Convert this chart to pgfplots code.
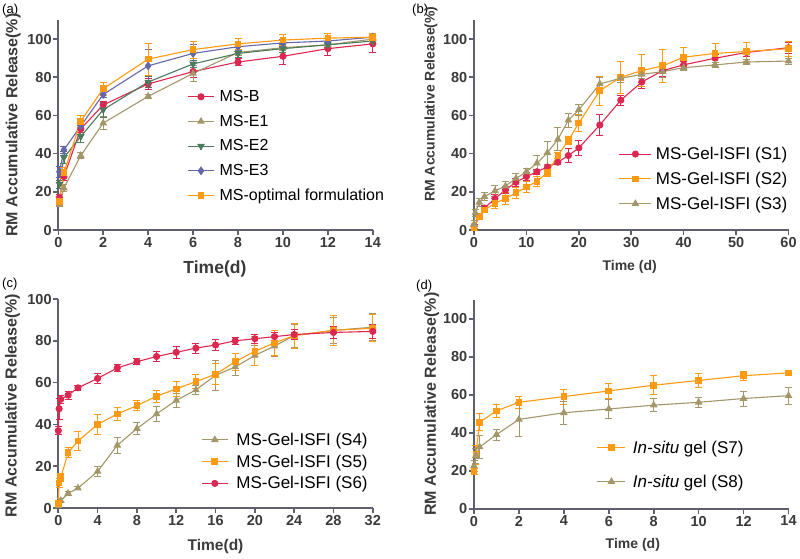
\documentclass[border=0pt]{standalone}
\usepackage{pgfplots}
\pgfplotsset{compat=1.18}
\usepackage{fontspec}
\setmainfont{Liberation Sans}
\definecolor{cred}{HTML}{DC2850}
\definecolor{colive}{HTML}{A39668}
\definecolor{cgreen}{HTML}{4C7A5C}
\definecolor{cpurple}{HTML}{6666AA}
\definecolor{corange}{HTML}{FF9A12}
\definecolor{axiscol}{HTML}{5E6070}
\definecolor{labcol}{HTML}{3A3A3A}
\pgfplotsset{
 prism/.style={
  scale only axis, width=314.5pt, height=210pt,
  axis x line=bottom, axis y line=left,
  axis line style={line width=1.8pt, color=axiscol, -},
  tick align=outside, major tick length=5pt,
  every tick/.style={line width=1.6pt, color=axiscol},
  tick label style={font=\fontsize{14.5}{14.5}\selectfont\bfseries, text=labcol},
  yticklabel style={inner sep=1.5pt},
  xticklabel style={inner sep=2pt},
  /pgf/number format/assume math mode=true,
  minor tick num=0,
  clip=false,
  ymin=0, ytick={0,20,...,100},
  legend cell align=left,
  legend style={draw=none, fill=none, anchor=north west, inner sep=0pt, row sep=7pt, column sep=3pt,
    font=\fontsize{16}{16}\selectfont},
  legend image code/.code={\draw[mark repeat=2,mark phase=2,##1] plot coordinates {(0pt,0pt) (13pt,0pt) (26pt,0pt)};},
  every axis plot/.append style={line width=1.1pt},
  every axis y label/.style={rotate=90, anchor=center, font=\fontsize{16}{16}\selectfont\bfseries, text=labcol},
  every axis x label/.style={anchor=center, font=\fontsize{16}{16}\selectfont\bfseries, text=labcol},
  ylabel={RM Accumulative Release(\%)},
 },
 eb/.style={error bars/.cd, y dir=both, y explicit,
   error bar style={line width=0.8pt},
   error mark options={rotate=90, mark size=3.5pt, line width=0.8pt}},
 sred/.style={color=cred, mark=*, mark size=3pt, mark options={solid, fill=cred}},
 solive/.style={color=colive, mark=triangle*, mark size=3.4pt, mark options={solid, fill=colive}},
 sgreen/.style={color=cgreen, mark=triangle*, mark size=3.4pt, mark options={solid, fill=cgreen, rotate=180}},
 spurple/.style={color=cpurple, mark=diamond*, mark size=3.6pt, mark options={solid, fill=cpurple}},
 sorange/.style={color=corange, mark=square*, mark size=2.8pt, mark options={solid, fill=corange}},
}
\begin{document}
\begin{tikzpicture}
\useasboundingbox (0,0) rectangle (800pt,-558pt);
\node[anchor=north west, font=\fontsize{13}{13}\selectfont, inner sep=0pt] at (2pt,-4pt) {(a)};
\node[anchor=north west, font=\fontsize{13}{13}\selectfont, inner sep=0pt] at (412pt,-4pt) {(b)};
\node[anchor=north west, font=\fontsize{13}{13}\selectfont, inner sep=0pt] at (2pt,-278pt) {(c)};
\node[anchor=north west, font=\fontsize{13}{13}\selectfont, inner sep=0pt] at (416pt,-280pt) {(d)};

% ---------------- (a)
\begin{axis}[prism, at={(58.3pt,-230pt)}, anchor=south west,
  xmin=0, xmax=14, ymax=110, xtick={0,2,...,14},
  xlabel={Time(d)},
  every axis x label/.append style={at={(axis description cs:0.498,-0.186)}, font=\fontsize{17.5}{17.5}\selectfont\bfseries},
  every axis y label/.append style={at={(axis description cs:-0.143,0.5)}},
  legend style={at={(axis description cs:0.41,0.675)}, row sep=8pt},
]
\addplot+[sred, eb] table[y error=e] {
x y e
0.05 17 1.5
0.25 28 2
1 53 2
2 65.5 2
4 76.5 3
6 83 3
8 88 2
10 91 4.5
12 95 3.5
14 97.5 4.5
};
\addlegendentry{MS-B}
\addplot+[solive, eb] table[y error=e] {
x y e
0.05 13.5 1
0.25 22 2
1 39 1.5
2 56 3.5
4 70 1
6 82 4
8 93 1.5
10 95.5 1.5
12 97 1.5
14 100 2
};
\addlegendentry{MS-E1}
\addplot+[sgreen, eb] table[y error=e] {
x y e
0.05 24 2
0.25 38 3
1 49 3
2 63 4
4 77.5 3
6 87 2
8 92.5 2
10 95 2
12 97 1.5
14 99 2
};
\addlegendentry{MS-E2}
\addplot+[spurple, eb] table[y error=e] {
x y e
0.05 30.5 3
0.25 42 2
1 54.5 2
2 71 1.5
4 86 8.5
6 92.5 4.5
8 96 2
10 98 2
12 99 1.5
14 101 1.5
};
\addlegendentry{MS-E3}
\addplot+[sorange, eb] table[y error=e] {
x y e
0.05 15 1.5
0.25 30 3
1 57 3
2 74 3.5
4 89.5 8.5
6 94.5 4.5
8 97.5 3
10 99.5 3
12 100.5 2.5
14 101 2
};
\addlegendentry{MS-optimal formulation}
\end{axis}

% ---------------- (b)
\begin{axis}[prism, at={(474pt,-230pt)}, anchor=south west,
  xmin=0, xmax=60, ymax=110, xtick={0,10,...,60},
  xlabel={Time (d)},
  every axis x label/.append style={at={(axis description cs:0.495,-0.177)}, font=\fontsize{14}{14}\selectfont\bfseries},
  every axis y label/.append style={at={(axis description cs:-0.137,0.6)}, font=\fontsize{14}{14}\selectfont\bfseries},
  legend style={at={(axis description cs:0.46,0.405)}, font=\fontsize{17}{17}\selectfont, row sep=7pt, column sep=2pt},
  legend image code/.code={\draw[mark repeat=2,mark phase=2,#1] plot coordinates {(0pt,0pt) (16pt,0pt) (32pt,0pt)};},
]
\addplot+[sred, eb] table[y error=e] {
x y e
0 2 1
1 7 1.5
2 11.5 1.5
4 16.5 2
6 21 2
8 25 2
10 28 2
12 30.5 1.5
14 33 1.5
16 35.5 1
18 39 3.5
20 43 4
24 55 5.5
28 68 2.5
32 77.5 3.5
36 83.5 3
40 86.5 2
46 90 2
52 93 2
60 95.5 3
};
\addlegendentry{MS-Gel-ISFI (S1)}
\addplot+[sorange, eb] table[y error=e] {
x y e
0 1 1
1 7 1.5
2 10.5 1.5
4 14 2.5
6 16.5 3
8 19.5 3
10 22.5 3
12 25.5 2.5
14 30 2
16 39 1.5
18 47 2
20 56 4.5
24 73 7.5
28 80 8.5
32 83.5 8.5
36 86 8.5
40 90.5 5
46 92.5 5.5
52 93.5 5
60 95 4
};
\addlegendentry{MS-Gel-ISFI (S2)}
\addplot+[solive, eb] table[y error=e] {
x y e
0 3 2
0.25 9 2
1 14.5 2
2 17.5 2
4 20.5 3
6 23 2.5
8 27 2.5
10 30.5 2
12 35 4
14 40.5 6
16 47.5 6
18 57.5 3.5
20 63 3
24 76.5 3.5
28 79.5 2
32 81.5 2
36 83 3
40 85 1.5
46 86.5 1.5
52 88 1.5
60 88.5 1.5
};
\addlegendentry{MS-Gel-ISFI (S3)}
\end{axis}

% ---------------- (c)
\begin{axis}[prism, at={(58.3pt,-508pt)}, anchor=south west, height=209pt,
  xmin=0, xmax=32, ymax=100, xtick={0,4,...,32},
  xlabel={Time(d)},
  every axis x label/.append style={at={(axis description cs:0.50,-0.182)}, font=\fontsize{15.5}{15.5}\selectfont\bfseries},
  every axis y label/.append style={at={(axis description cs:-0.146,0.49)}},
  legend style={at={(axis description cs:0.454,0.37)}, font=\fontsize{17}{17}\selectfont, row sep=4pt, column sep=6pt},
]
\addplot+[solive, eb] table[y error=e] {
x y e
0 1 0.5
0.25 3.5 1
1 7 1
2 9.5 0.8
4 17.5 2.5
6 30 4
8 38 3
10 45 3.5
12 51.5 3.5
14 56.5 2
16 63.5 7
18 67.5 4
20 73 5
22 77.5 5
24 82.5 5.5
28 85 6
32 86.5 6.5
};
\addlegendentry{MS-Gel-ISFI (S4)}
\addplot+[sorange, eb] table[y error=e] {
x y e
0 2 1
0.083 12 2
0.25 14.5 2
1 26.5 2.5
2 32 4.5
4 40 5
6 45 3
8 49 2.5
10 53.5 3
12 57 3.5
14 60.5 3.5
16 64 5
18 70 4
20 75 7
22 79 6
24 82.5 6
28 85 7
32 86 6.5
};
\addlegendentry{MS-Gel-ISFI (S5)}
\addplot+[sred, eb] table[y error=e] {
x y e
0 37 2
0.083 47.5 5
0.25 52 2
1 54 2
2 57.5 1
4 62 2.5
6 67 1.5
8 70 1.5
10 72.5 2.5
12 74.5 3
14 76.5 2.5
16 78 2.5
18 80 1.5
20 81 2
22 82 2
24 83 2.5
28 84 3
32 84.5 3.5
};
\addlegendentry{MS-Gel-ISFI (S6)}
\end{axis}

% ---------------- (d)
\begin{axis}[prism, at={(474pt,-508.7pt)}, anchor=south west, height=209pt,
  xmin=0, xmax=14, ymax=110, xtick={0,2,...,14},
  xlabel={Time (d)},
  every axis x label/.append style={at={(axis description cs:0.505,-0.172)}, font=\fontsize{14}{14}\selectfont\bfseries},
  every axis y label/.append style={at={(axis description cs:-0.134,0.5)}},
  legend style={at={(axis description cs:0.39,0.335)}, font=\fontsize{17}{17}\selectfont, row sep=16pt, column sep=5pt},
  legend image code/.code={\draw[mark repeat=2,mark phase=2,#1] plot coordinates {(0pt,0pt) (14pt,0pt) (28pt,0pt)};},
]
\addplot+[sorange, eb] table[y error=e] {
x y e
0 19.5 1.5
0.083 28.5 5
0.25 45.5 4.5
1 51.5 3.5
2 56 3
4 59 4
6 62 4
8 65 5
10 67.5 3.5
12 70 2.5
14 71.5 1.5
};
\addlegendentry{\textit{In-situ} gel (S7)}
\addplot+[solive, eb] table[y error=e] {
x y e
0 22.5 3
0.083 28 4
0.25 32.5 6
1 39 3
2 47 9
4 50.5 6
6 52.5 5
8 54.5 3.5
10 56 2.5
12 58 4
14 59.5 4.5
};
\addlegendentry{\textit{In-situ} gel (S8)}
\end{axis}
\end{tikzpicture}
\end{document}
